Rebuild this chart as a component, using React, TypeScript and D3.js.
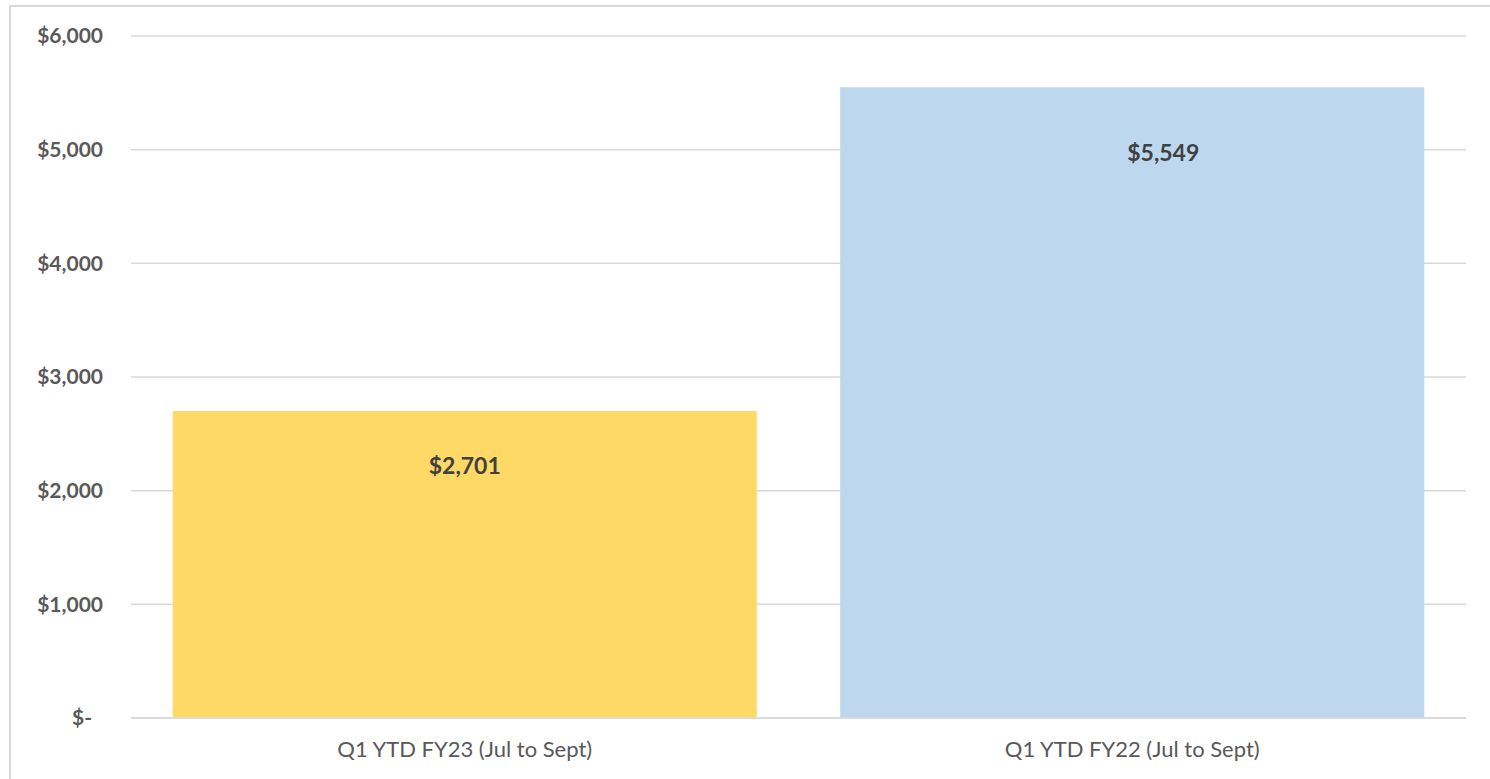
import { useEffect, useRef } from 'react';
import * as d3 from 'd3';

const categories = ['Q1 YTD FY23 (Jul to Sept)', 'Q1 YTD FY22 (Jul to Sept)'];
const values = [2701, 5549];
const barColors = ['#FFD966', '#BDD7EE'];
const yTicks = [0, 1000, 2000, 3000, 4000, 5000, 6000];
// data labels were nudged by hand in the original chart
const labelNudges = [
    { dx: 0, dy: 55 },
    { dx: 31, dy: 66 },
];

export default function App() {
    const svgRef = useRef<SVGSVGElement>(null);

    useEffect(() => {
        const width = 1490;
        const height = 779;
        const font = 'Lato, "Open Sans", sans-serif';

        d3.select(svgRef.current).selectAll('*').remove();

        const svg = d3
            .select(svgRef.current)
            .attr('width', width)
            .attr('height', height)
            .style('font-family', font);

        svg.append('rect')
            .attr('width', width)
            .attr('height', height)
            .attr('fill', '#ffffff');

        // chart area border (runs off the right and bottom of the picture)
        svg.append('rect')
            .attr('x', 10)
            .attr('y', 6)
            .attr('width', width + 20)
            .attr('height', height + 20)
            .attr('fill', 'none')
            .attr('stroke', '#d9d9d9')
            .attr('stroke-width', 2);

        const x = d3
            .scaleBand()
            .domain(categories)
            .range([131, 1466])
            .paddingInner(0.125)
            .paddingOuter(0.0625);

        const y = d3.scaleLinear().domain([0, 6000]).range([718, 36]);

        // Gridlines
        svg.append('g')
            .selectAll('line')
            .data(yTicks)
            .enter()
            .append('line')
            .attr('x1', 131)
            .attr('x2', 1466)
            .attr('y1', (d) => y(d))
            .attr('y2', (d) => y(d))
            .attr('stroke', '#d9d9d9')
            .attr('stroke-width', 1.5);

        // Y tick labels (accounting format)
        svg.append('g')
            .selectAll('text')
            .data(yTicks)
            .enter()
            .append('text')
            .attr('x', 103)
            .attr('dx', (d) => (d === 0 ? -11 : 0))
            .attr('y', (d) => y(d))
            .attr('dy', '0.35em')
            .attr('text-anchor', 'end')
            .style('font-size', '21px')
            .style('font-weight', 'bold')
            .style('fill', '#595959')
            .text((d) => (d === 0 ? '$-' : d3.format('$,')(d)));

        // Bars
        svg.append('g')
            .selectAll('rect')
            .data(values)
            .enter()
            .append('rect')
            .attr('x', (d, i) => x(categories[i])!)
            .attr('width', x.bandwidth())
            .attr('y', (d) => y(d))
            .attr('height', (d) => y(0) - y(d))
            .attr('fill', (d, i) => barColors[i]);

        // Zero line on top of bars
        svg.append('line')
            .attr('x1', 131)
            .attr('x2', 1466)
            .attr('y1', y(0))
            .attr('y2', y(0))
            .attr('stroke', '#d9d9d9')
            .attr('stroke-width', 1.5);

        // Data labels
        svg.append('g')
            .selectAll('text')
            .data(values)
            .enter()
            .append('text')
            .attr('x', (d, i) => x(categories[i])! + x.bandwidth() / 2 + labelNudges[i].dx)
            .attr('y', (d, i) => y(d) + labelNudges[i].dy)
            .attr('dy', '0.35em')
            .attr('text-anchor', 'middle')
            .style('font-size', '23px')
            .style('font-weight', 'bold')
            .style('fill', '#404040')
            .text((d) => d3.format('$,')(d));

        // Category labels
        svg.append('g')
            .selectAll('text')
            .data(categories)
            .enter()
            .append('text')
            .attr('x', (d) => x(d)! + x.bandwidth() / 2)
            .attr('y', 749)
            .attr('dy', '0.35em')
            .attr('text-anchor', 'middle')
            .style('font-size', '22px')
            .style('fill', '#595959')
            .text((d) => d);
    }, []);

    return (
        <div style={{ position: 'absolute', left: 0, top: 0 }}>
            <svg ref={svgRef} style={{ display: 'block' }}></svg>
        </div>
    );
}
